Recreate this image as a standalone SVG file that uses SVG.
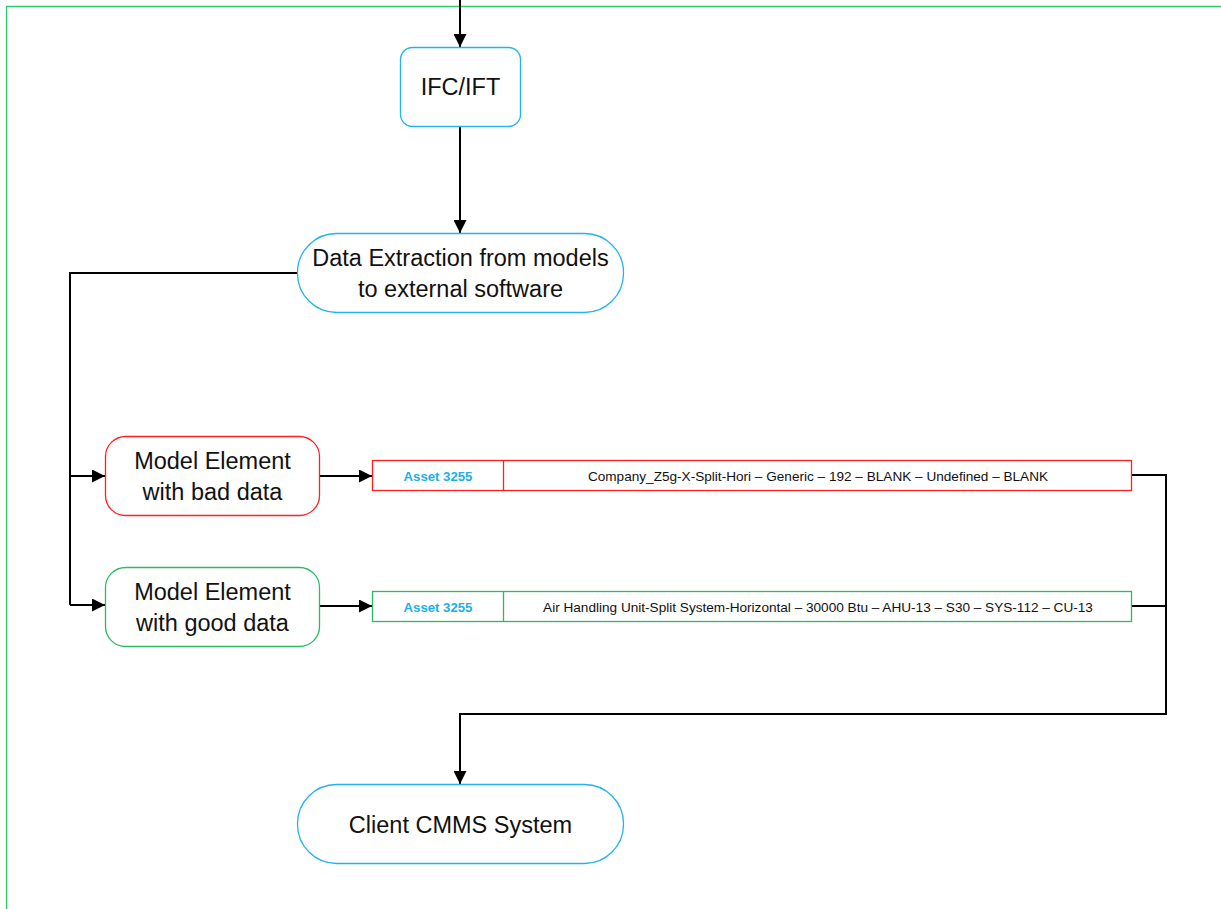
<svg xmlns="http://www.w3.org/2000/svg" width="1221" height="909" viewBox="0 0 1221 909">
  <style>
    .box-blue { fill: #ffffff; stroke: #21b3ea; stroke-width: 1.3; }
    .box-red { fill: #ffffff; stroke: #ff2020; stroke-width: 1.3; }
    .box-green { fill: #ffffff; stroke: #2cb866; stroke-width: 1.3; }
    .label { font-family: "Liberation Sans", Arial, sans-serif; font-size: 23.5px; fill: #111111; text-anchor: middle; }
    .cell { font-family: "Liberation Sans", Arial, sans-serif; font-size: 13.6px; fill: #111111; text-anchor: middle; }
    .asset { font-family: "Liberation Sans", Arial, sans-serif; font-size: 13.2px; font-weight: bold; fill: #1aaeea; text-anchor: middle; }
    .wire { fill: none; stroke: #000000; stroke-width: 2; }
  </style>
  <defs>
    <marker id="arrow" viewBox="0 0 10 10" refX="10" refY="5" markerWidth="6.5" markerHeight="6.5" markerUnits="strokeWidth" orient="auto">
      <path d="M0,0 L10,5 L0,10 z" fill="#000000"/>
    </marker>
  </defs>

  <rect width="1221" height="909" fill="#ffffff"/>

  <!-- page frame -->
  <path d="M6.5,909 L6.5,6.5 L1221,6.5" fill="none" stroke="#2ecc71" stroke-width="1.3"/>

  <g id="connectors">
    <path class="wire" d="M460,0 L460,47" marker-end="url(#arrow)"/>
    <path class="wire" d="M460,127 L460,233" marker-end="url(#arrow)"/>
    <path class="wire" d="M297,273 L70,273 L70,605"/>
    <path class="wire" d="M70,476 L105,476" marker-end="url(#arrow)"/>
    <path class="wire" d="M70,605 L105,605" marker-end="url(#arrow)"/>
    <path class="wire" d="M320,476 L372,476" marker-end="url(#arrow)"/>
    <path class="wire" d="M320,606 L372,606" marker-end="url(#arrow)"/>
    <path class="wire" d="M1132,475 L1166,475 L1166,714 L460,714 L460,784" marker-end="url(#arrow)"/>
    <path class="wire" d="M1132,606 L1166,606"/>
  </g>

  <g id="ifc">
    <rect class="box-blue" x="400.5" y="47.5" width="120" height="79" rx="12"/>
    <text class="label" x="460.5" y="95">IFC/IFT</text>
  </g>

  <g id="extraction">
    <rect class="box-blue" x="297.5" y="233.5" width="326" height="79" rx="39"/>
    <text class="label" x="460.5" y="266">Data Extraction from models</text>
    <text class="label" x="460.5" y="297">to external software</text>
  </g>

  <g id="bad-element">
    <rect class="box-red" x="105.5" y="436.5" width="214" height="79" rx="20"/>
    <text class="label" x="212.5" y="469">Model Element</text>
    <text class="label" x="212.5" y="500">with bad data</text>
  </g>

  <g id="good-element">
    <rect class="box-green" x="105.5" y="567.5" width="214" height="79" rx="20"/>
    <text class="label" x="212.5" y="600">Model Element</text>
    <text class="label" x="212.5" y="631">with good data</text>
  </g>

  <g id="bad-record">
    <rect class="box-red" x="372.5" y="460.5" width="759" height="30"/>
    <line x1="503.5" y1="460.5" x2="503.5" y2="490.5" stroke="#ff2020" stroke-width="1.3"/>
    <text class="asset" x="438" y="480.5">Asset 3255</text>
    <text class="cell" x="818" y="480.5">Company_Z5g-X-Split-Hori – Generic – 192 – BLANK – Undefined – BLANK</text>
  </g>

  <g id="good-record">
    <rect class="box-green" x="372.5" y="591.5" width="759" height="30"/>
    <line x1="503.5" y1="591.5" x2="503.5" y2="621.5" stroke="#2cb866" stroke-width="1.3"/>
    <text class="asset" x="438" y="611.5">Asset 3255</text>
    <text class="cell" x="818" y="611.5">Air Handling Unit-Split System-Horizontal – 30000 Btu – AHU-13 – S30 – SYS-112 – CU-13</text>
  </g>

  <g id="cmms">
    <rect class="box-blue" x="297.5" y="784.5" width="326" height="79" rx="39"/>
    <text class="label" x="460.5" y="833">Client CMMS System</text>
  </g>
</svg>
